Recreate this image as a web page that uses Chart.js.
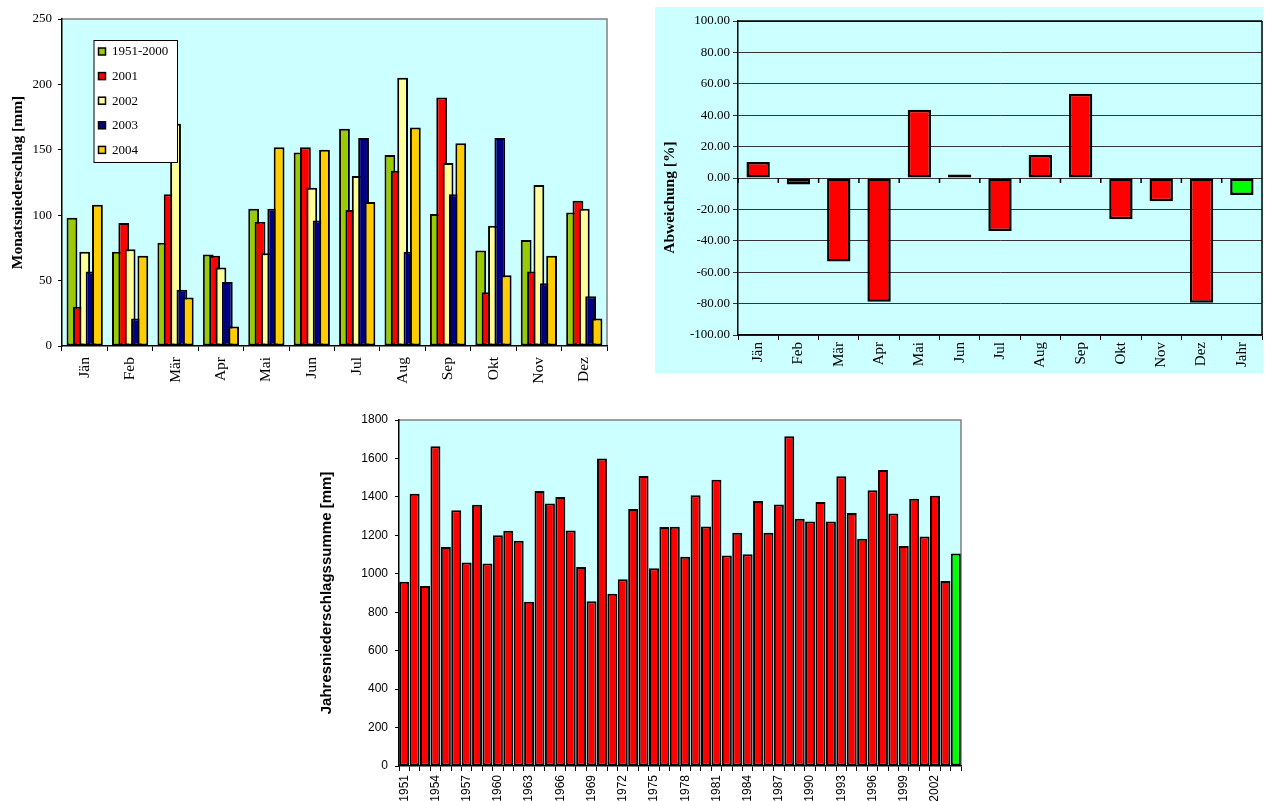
<!DOCTYPE html>
<html><head><meta charset="utf-8">
<script src="https://cdn.jsdelivr.net/npm/chart.js@4"></script>
<style>
body{margin:0;background:#fff;width:1266px;height:801px;position:relative;overflow:hidden}
canvas{position:absolute}
#c1{left:0;top:0}
#c2{left:655px;top:7px;background:#CCFFFF}
#c3{left:300px;top:400px}
</style></head><body>
<canvas id="c1" width="620" height="395"></canvas>
<canvas id="c2" width="608" height="366"></canvas>
<canvas id="c3" width="680" height="401"></canvas>
<script>
// ---- data ----
const months = ['Jän','Feb','Mär','Apr','Mai','Jun','Jul','Aug','Sep','Okt','Nov','Dez'];
const seriesNames = ['1951-2000','2001','2002','2003','2004'];
const mean1951_2000 = [98,72,79,70,105,148,166,146,101,73,81,102];
const y2001 = [30,94,116,69,95,152,104,134,190,41,57,111];
const y2002 = [72,74,170,60,71,121,130,205,140,92,123,105];
const y2003 = [57,21,43,49,105,96,159,72,116,159,48,38];
const y2004 = [108,69,37,15,152,150,110,167,155,54,69,21];

const devLabels = ['Jän','Feb','Mär','Apr','Mai','Jun','Jul','Aug','Sep','Okt','Nov','Dez','Jahr'];
const deviation = [10.2,-4.2,-53.2,-78.8,43.4,2.3,-33.7,14.6,53.6,-26.3,-14.8,-79.4,-10.8];
const devTitle = 'Abweichung [%]';

const years = ['1951','1952','1953','1954','1955','1956','1957','1958','1959','1960',
 '1961','1962','1963','1964','1965','1966','1967','1968','1969','1970',
 '1971','1972','1973','1974','1975','1976','1977','1978','1979','1980',
 '1981','1982','1983','1984','1985','1986','1987','1988','1989','1990',
 '1991','1992','1993','1994','1995','1996','1997','1998','1999','2000',
 '2001','2002','2003','2004'];
const annual = [958,1416,937,1663,1139,1331,1059,1359,1054,1201,
 1224,1172,854,1430,1366,1399,1225,1035,857,1600,
 896,972,1337,1509,1029,1243,1245,1088,1409,1246,
 1489,1095,1213,1102,1378,1213,1361,1715,1286,1272,
 1373,1272,1507,1316,1182,1434,1540,1314,1144,1390,
 1194,1406,962,1106];

// ---- styles ----
const seriesColors = ['#99CC00','#FF0000','#FFFF99','#000080','#FFCC00'];
const CYAN = '#CCFFFF';
const SERIF = 'Liberation Serif';
const SANS = 'Liberation Sans';

function plotBg(fill, borderColor){
  return {
    id:'plotBg',
    beforeDraw(chart){
      const {ctx, chartArea:a} = chart;
      ctx.save();
      ctx.fillStyle = fill;
      ctx.fillRect(a.left, a.top, a.right-a.left, a.bottom-a.top);
      ctx.strokeStyle = borderColor; ctx.lineWidth = 1.5;
      ctx.beginPath();
      ctx.moveTo(a.left, a.top); ctx.lineTo(a.right, a.top); ctx.lineTo(a.right, a.bottom);
      ctx.stroke();
      ctx.restore();
    }
  };
}

const forwardDraw = {
  id:'forwardDraw',
  beforeDatasetsDraw(chart){
    chart.getSortedVisibleDatasetMetas().forEach(m => m.controller.draw());
    return false;
  }
};

const boxLegend = {
  id:'boxLegend',
  afterDraw(chart){
    const {ctx, chartArea:a} = chart;
    const x0 = a.left + 31.5, y0 = a.top + 21, w = 83.5, h = 122;
    ctx.save();
    ctx.fillStyle = '#fff';
    ctx.fillRect(x0, y0, w, h);
    ctx.strokeStyle = '#000'; ctx.lineWidth = 1;
    ctx.strokeRect(x0+0.5, y0+0.5, w, h);
    ctx.font = '13px "' + SERIF + '"';
    ctx.textBaseline = 'middle';
    chart.data.datasets.forEach((ds, i) => {
      const yc = y0 + 11.5 + i*24.6;
      ctx.fillStyle = ds.backgroundColor;
      ctx.fillRect(x0+5, yc-3.5, 7, 7);
      ctx.lineWidth = 1.5; ctx.strokeStyle = '#000';
      ctx.strokeRect(x0+5, yc-3.5, 7, 7);
      ctx.fillStyle = '#000';
      ctx.fillText(ds.label, x0+18.5, yc+0.5);
    });
    ctx.restore();
  }
};

// ---- Chart 1: monthly precipitation ----
const monthlySeries = [mean1951_2000, y2001, y2002, y2003, y2004];
new Chart(document.getElementById('c1'), {
  type:'bar',
  data:{
    labels: months,
    datasets: seriesNames.map((n,i) => ({
      label:n, data:monthlySeries[i], backgroundColor:seriesColors[i],
      borderColor:'#000', borderWidth:2, borderSkipped:false,
      barPercentage:1.7, categoryPercentage:0.70
    }))
  },
  options:{
    responsive:false, animation:false,
    layout:{padding:{left:0, top:19, right:13, bottom:0}},
    plugins:{legend:{display:false}, tooltip:{enabled:false}},
    scales:{
      x:{
        grid:{drawOnChartArea:false, tickLength:5, color:'#000', lineWidth:1},
        border:{color:'#000', width:1.5},
        ticks:{maxRotation:90, minRotation:90, autoSkip:false, padding:6, color:'#000', font:{family:SERIF, size:15.5}},
        afterFit(s){ s.height = 49; }
      },
      y:{
        min:0, max:250,
        ticks:{stepSize:50, padding:6, color:'#000', font:{family:SERIF, size:13}, callback:v => String(v)},
        grid:{drawOnChartArea:false, tickLength:4, color:'#000'},
        border:{color:'#000', width:1.5},
        title:{display:true, text:'Monatsniederschlag [mm]', color:'#000', font:{family:SERIF, size:15.5, weight:'bold'}, padding:{top:9, bottom:0}},
        afterFit(s){ s.width = 62; }
      }
    }
  },
  plugins:[plotBg(CYAN, '#808080'), forwardDraw, boxLegend]
});

// ---- Chart 2: deviation ----
const zeroTicks = {
  id:'zeroTicks',
  afterDatasetsDraw(chart){
    const {ctx, chartArea:a, scales:{x, y}} = chart;
    const y0 = y.getPixelForValue(0);
    ctx.save();
    ctx.strokeStyle = '#000'; ctx.lineWidth = 1.5;
    ctx.beginPath();
    for (let i = 0; i <= devLabels.length; i++) {
      const px = x.getPixelForValue(i - 0.5);
      ctx.moveTo(px, y0); ctx.lineTo(px, y0 + 5);
    }
    ctx.moveTo(a.right, a.top); ctx.lineTo(a.right, a.bottom);
    ctx.moveTo(a.left, a.top); ctx.lineTo(a.right, a.top);
    ctx.stroke();
    // axis title, centred on the whole panel height (as in the original)
    ctx.translate(14.5, chart.height / 2 + 7.5);
    ctx.rotate(-Math.PI / 2);
    ctx.fillStyle = '#000';
    ctx.font = 'bold 15.5px "' + SERIF + '"';
    ctx.textAlign = 'center'; ctx.textBaseline = 'middle';
    ctx.fillText(devTitle, 0, 0);
    ctx.restore();
  }
};
new Chart(document.getElementById('c2'), {
  type:'bar',
  data:{
    labels: devLabels,
    datasets:[{
      label:'Abweichung', data:deviation,
      backgroundColor: c => c.dataIndex === devLabels.length-1 ? '#00FF00' : '#FF0000',
      borderColor:'#000', borderWidth:2.5, borderSkipped:false,
      barPercentage:0.58, categoryPercentage:1
    }]
  },
  options:{
    responsive:false, animation:false,
    layout:{padding:{left:0, top:14, right:1, bottom:0}},
    plugins:{legend:{display:false}, tooltip:{enabled:false}},
    scales:{
      x:{
        grid:{drawOnChartArea:false, tickLength:5, color:'#000'},
        border:{color:'#000', width:1.5},
        ticks:{maxRotation:90, minRotation:90, autoSkip:false, padding:2, color:'#000', font:{family:SERIF, size:15}},
        afterFit(s){ s.height = 38; }
      },
      y:{
        min:-100, max:100,
        ticks:{stepSize:20, padding:3, color:'#000', font:{family:SERIF, size:13}, callback:v => Number(v).toFixed(2)},
        grid:{color:'#333', tickLength:5, lineWidth:1},
        border:{color:'#000', width:1.5},
        title:{display:false},
        afterFit(s){ s.width = 83; }
      }
    }
  },
  plugins:[zeroTicks]
});

// ---- Chart 3: annual sums ----
new Chart(document.getElementById('c3'), {
  type:'bar',
  data:{
    labels: years,
    datasets:[{
      label:'Jahresniederschlagssumme', data:annual,
      backgroundColor: c => c.dataIndex === years.length-1 ? '#00FF00' : '#FF0000',
      borderColor:'#000', borderWidth:2, borderSkipped:false,
      barPercentage:0.96, categoryPercentage:1
    }]
  },
  options:{
    responsive:false, animation:false,
    layout:{padding:{left:0, top:20, right:19, bottom:0}},
    plugins:{legend:{display:false}, tooltip:{enabled:false}},
    scales:{
      x:{
        grid:{drawOnChartArea:false, tickLength:5, color:'#000'},
        border:{color:'#000', width:1.5},
        ticks:{maxRotation:90, minRotation:90, autoSkip:false, padding:4, color:'#000', font:{family:SANS, size:12},
          callback(v, i){ return i % 3 === 0 ? this.getLabelForValue(v) : ''; }},
        afterFit(s){ s.height = 35; }
      },
      y:{
        min:0, max:1800,
        ticks:{stepSize:200, padding:7, color:'#000', font:{family:SANS, size:12}, callback:v => String(v)},
        grid:{drawOnChartArea:false, tickLength:4, color:'#000'},
        border:{color:'#000', width:1.5},
        title:{display:true, text:'Jahresniederschlagssumme [mm]', color:'#000', font:{family:SANS, size:15, weight:'bold'}, padding:{top:18, bottom:0}},
        afterFit(s){ s.width = 99; }
      }
    }
  },
  plugins:[plotBg(CYAN, '#808080')]
});
</script>
</body></html>
